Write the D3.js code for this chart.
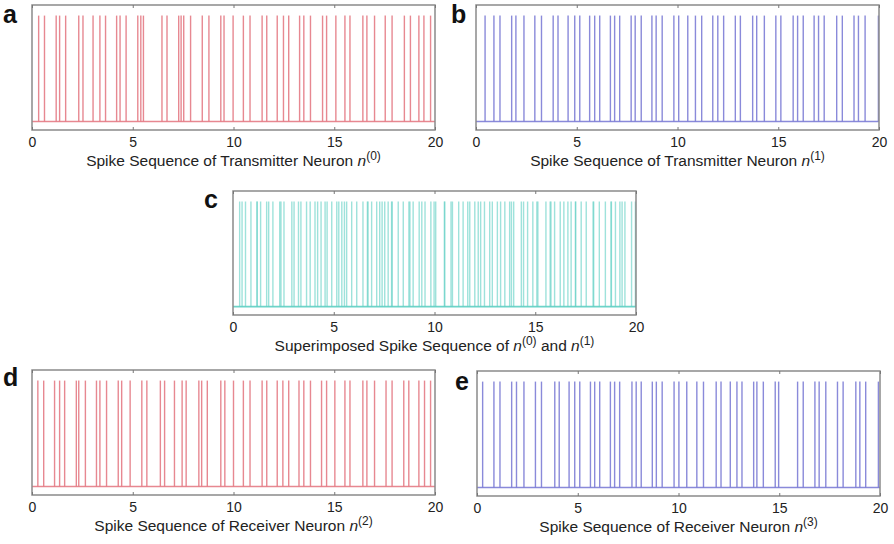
<!DOCTYPE html>
<html>
<head>
<meta charset="utf-8">
<script src="https://cdn.jsdelivr.net/npm/d3@7"></script>
<style>
  body { margin: 0; background: #fff; }
  svg { font-family: "Liberation Sans", Arial, sans-serif; }
</style>
</head>
<body>
<div id="chart"></div>
<script>
// spike times (time units 0-20)
var spikesN0 = [0.33, 0.62, 1.2, 1.37, 1.67, 2.32, 2.53, 3.03, 3.37, 3.65, 4.2, 4.37, 4.67,
  5.25, 5.4, 5.53, 6.45, 6.7, 7.28, 7.4, 7.53, 7.87, 8.45, 8.78, 9.37, 9.53, 9.98,
  10.49, 10.82, 11.42, 11.65, 12.17, 12.48, 12.74, 13.28, 13.49, 13.82, 14.42, 14.62,
  15.08, 15.53, 15.78, 16.42, 16.62, 17.0, 17.53, 17.87, 18.48, 18.78, 19.2, 19.45, 19.78];

var spikesN1 = [0.45, 0.89, 1.19, 1.77, 1.98, 2.38, 2.92, 3.25, 3.83, 4.07, 4.57, 4.9, 5.15,
  5.64, 5.89, 6.14, 6.67, 6.88, 7.13, 7.7, 7.9, 8.2, 8.73, 8.94, 9.24, 9.82,
  10.06, 10.51, 10.89, 11.2, 11.75, 12.0, 12.29, 12.87, 13.12, 13.73, 13.93, 14.31,
  14.88, 15.13, 15.74, 15.96, 16.24, 16.78, 17.0, 17.28, 17.9, 18.18, 18.76, 18.98, 19.31, 19.97];

var spikesN2 = [0.29, 0.58, 1.12, 1.37, 1.62, 2.2, 2.32, 2.65, 3.2, 3.37, 3.7, 4.28, 4.45, 4.87,
  5.45, 5.7, 6.37, 6.58, 7.07, 7.45, 7.65, 8.28, 8.42, 8.7, 9.37, 9.57, 10.0,
  10.49, 10.82, 11.42, 11.65, 12.17, 12.45, 12.74, 13.25, 13.49, 13.82, 14.37, 14.62,
  15.03, 15.53, 15.78, 16.42, 16.62, 17.0, 17.57, 17.87, 18.45, 18.7, 19.2, 19.48, 19.78];

var spikesN3 = [0.28, 0.84, 1.14, 1.72, 1.96, 2.33, 2.9, 3.2, 3.86, 4.08, 4.57, 4.85, 5.1,
  5.63, 5.84, 6.09, 6.62, 6.83, 7.08, 7.69, 7.9, 8.15, 8.7, 8.9, 9.19, 9.78,
  10.02, 10.41, 10.91, 11.24, 11.87, 12.11, 12.57, 12.9, 13.15, 13.73, 13.89, 14.21,
  14.8, 14.97, 15.91, 16.19, 16.77, 16.98, 17.31, 17.89, 18.17, 18.8, 19.0, 19.29, 19.92];

var xTicks = [0, 5, 10, 15, 20];

var width = 894, height = 544;

var svg = d3.select('#chart').append('svg')
    .attr('width', width)
    .attr('height', height);

var panels = [
  {letter: 'a', lx: 3,   ly: 23,  x0: 32,  x1: 435, top: 5,   bottom: 130,
   sets: [spikesN0], color: '#e57c86', opacity: 0.9,
   pre: 'Spike Sequence of Transmitter Neuron ', sups: ['(0)']},
  {letter: 'b', lx: 451, ly: 23,  x0: 476, x1: 879, top: 5,   bottom: 130,
   sets: [spikesN1], color: '#7e7ed6', opacity: 0.9,
   pre: 'Spike Sequence of Transmitter Neuron ', sups: ['(1)']},
  {letter: 'c', lx: 204, ly: 208, x0: 233, x1: 636, top: 191, bottom: 315,
   sets: [spikesN0, spikesN1], color: '#5fd0c4', opacity: 0.6,
   pre: 'Superimposed Spike Sequence of ', sups: ['(0)', '(1)']},
  {letter: 'd', lx: 3,   ly: 386, x0: 32,  x1: 435, top: 370, bottom: 495,
   sets: [spikesN2], color: '#e57c86', opacity: 0.9,
   pre: 'Spike Sequence of Receiver Neuron ', sups: ['(2)']},
  {letter: 'e', lx: 455, ly: 390, x0: 477, x1: 880, top: 371, bottom: 496,
   sets: [spikesN3], color: '#7e7ed6', opacity: 0.9,
   pre: 'Spike Sequence of Receiver Neuron ', sups: ['(3)']}
];

panels.forEach(function(p) {
  var x = d3.scaleLinear().domain([0, 20]).range([p.x0, p.x1]);
  var y = d3.scaleLinear().domain([-0.08, 1.1]).range([p.bottom, p.top]);
  var g = svg.append('g');

  // baseline
  g.append('line')
      .attr('x1', x(0)).attr('x2', x(20))
      .attr('y1', y(0)).attr('y2', y(0))
      .attr('stroke', p.color).attr('stroke-width', 1.6)
      .attr('opacity', 0.9);

  p.sets.forEach(function(set) {
    g.selectAll(null)
        .data(set).enter().append('line')
        .attr('x1', function(d) { return x(d); })
        .attr('x2', function(d) { return x(d); })
        .attr('y1', y(0))
        .attr('y2', y(1))
        .attr('stroke', p.color)
        .attr('stroke-width', 1.4)
        .attr('opacity', p.opacity);
  });

  // frame
  g.append('rect')
      .attr('x', p.x0).attr('y', p.top)
      .attr('width', p.x1 - p.x0).attr('height', p.bottom - p.top)
      .attr('fill', 'none').attr('stroke', '#8a8a8a').attr('stroke-width', 1.5);

  var axB = g.append('g')
      .attr('transform', 'translate(0,' + p.bottom + ')')
      .call(d3.axisBottom(x).tickValues(xTicks).tickSizeInner(-3).tickSizeOuter(0).tickPadding(7));
  axB.select('.domain').remove();
  axB.selectAll('line').attr('stroke', '#777');
  axB.selectAll('text')
      .attr('font-size', 14)
      .attr('font-family', '"Liberation Sans", Arial, sans-serif')
      .attr('fill', '#222');

  var axT = g.append('g')
      .attr('transform', 'translate(0,' + p.top + ')')
      .call(d3.axisTop(x).tickValues(xTicks).tickSizeInner(-3).tickSizeOuter(0).tickFormat(''));
  axT.select('.domain').remove();
  axT.selectAll('line').attr('stroke', '#777');

  // panel letter
  svg.append('text')
      .attr('x', p.lx).attr('y', p.ly)
      .attr('font-size', 25).attr('font-weight', 'bold')
      .attr('fill', '#111')
      .text(p.letter);

  // caption
  var cap = svg.append('text')
      .attr('x', (p.x0 + p.x1) / 2)
      .attr('y', p.bottom + 36)
      .attr('text-anchor', 'middle')
      .attr('font-size', 15.5)
      .attr('fill', '#222');
  cap.append('tspan').text(p.pre);
  p.sups.forEach(function(s, i) {
    if (i > 0) cap.append('tspan').attr('dy', 6).text(' and ');
    cap.append('tspan').attr('font-style', 'italic').text('n');
    cap.append('tspan').attr('dy', -6).attr('font-size', 12).text(s);
  });
});
</script>
</body>
</html>
